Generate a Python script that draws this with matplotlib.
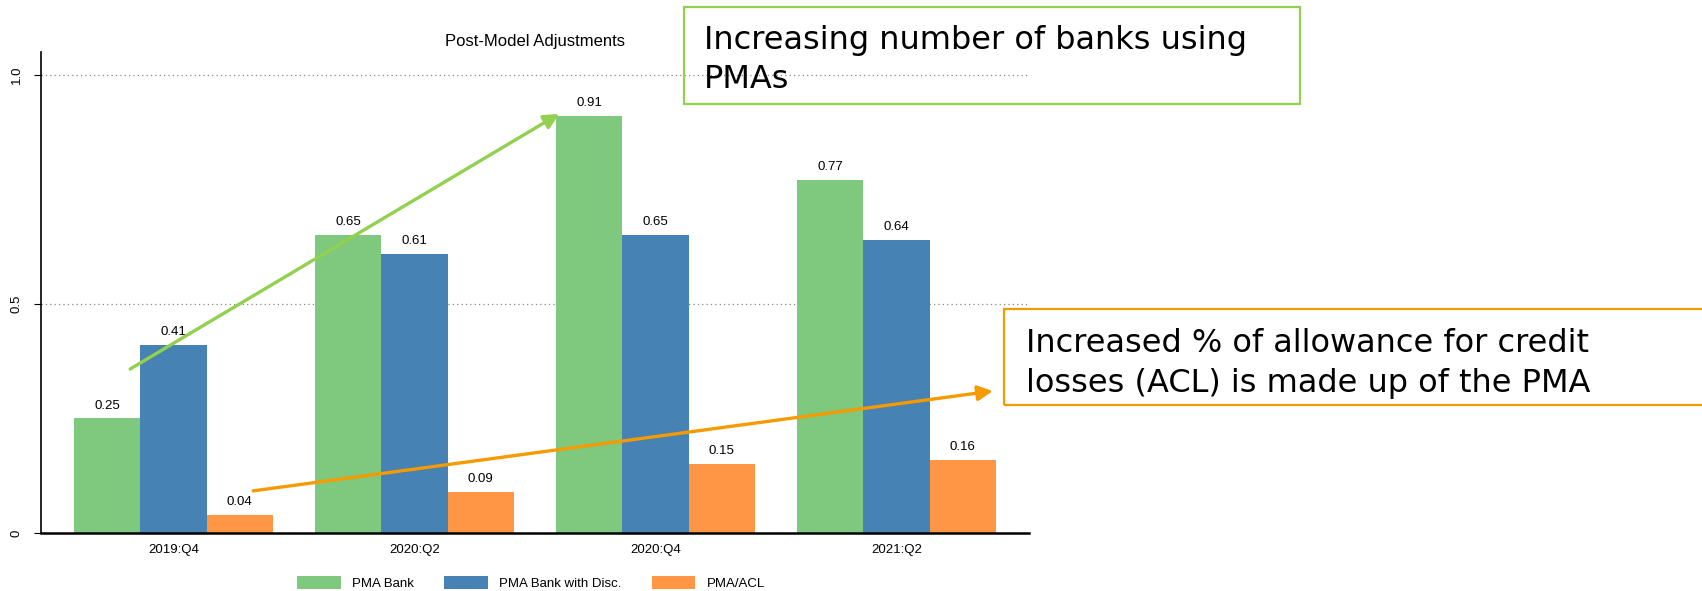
import matplotlib.pyplot as plt
import numpy as np

plt.rcParams['font.family'] = ['Liberation Sans', 'DejaVu Sans']

# Data
quarters = ['2019:Q4', '2020:Q2', '2020:Q4', '2021:Q2']
series_names = ['PMA Bank', 'PMA Bank with Disc.', 'PMA/ACL']
pma_bank = [0.25, 0.65, 0.91, 0.77]
pma_bank_disc = [0.41, 0.61, 0.65, 0.64]
pma_acl = [0.04, 0.09, 0.15, 0.16]
colors = ['#7fc97f', '#4682b4', '#fe9646']

fig = plt.figure(figsize=(17.02, 5.91), dpi=100)
ax = fig.add_axes([0.0241, 0.0981, 0.5805, 0.8139])

x = np.arange(len(quarters))
width = 0.275
for i, (vals, name, c) in enumerate(zip([pma_bank, pma_bank_disc, pma_acl], series_names, colors)):
    pos = x + (i - 1) * width
    bars = ax.bar(pos, vals, width, color=c, label=name, zorder=2)
    for b, v in zip(bars, vals):
        ax.annotate(f'{v:.2f}', (b.get_x() + b.get_width() / 2, v),
                    xytext=(0, 5), textcoords='offset points',
                    ha='center', va='bottom', fontsize=9.5)

ax.set_xlim(-0.55, 3.55)
ax.set_ylim(0, 1.05)
ax.set_xticks(x)
ax.set_xticklabels(quarters, fontsize=9.5)
ax.tick_params(axis='x', length=0, pad=8)
ax.set_yticks([0, 0.5, 1.0])
ax.set_yticklabels(['0', '0.5', '1.0'], rotation=90, va='center', fontsize=9.5)
ax.tick_params(axis='y', length=5, width=0.8, pad=8)
for yv in [0.5, 1.0]:
    ax.axhline(yv, color='#888888', lw=0.9, ls=(0, (1, 2.5)), zorder=1)

for s in ['top', 'right']:
    ax.spines[s].set_visible(False)
ax.spines['left'].set_linewidth(1.2)
ax.spines['bottom'].set_linewidth(1.8)
ax.spines['bottom'].set_zorder(3)

ax.set_title('Post-Model Adjustments', fontsize=12, pad=4)

ax.legend(loc='center', bbox_to_anchor=(0.312, 0.0135), bbox_transform=fig.transFigure,
          ncol=3, frameon=False, fontsize=9.5, handlelength=3.3, handleheight=1.2,
          columnspacing=2.3, handletextpad=0.85)

# Trend arrows
ax.annotate('', xy=(1.60, 0.915), xytext=(-0.18, 0.358),
            arrowprops=dict(arrowstyle='-|>,head_length=0.9,head_width=0.45',
                            color='#92d050', lw=2.4, shrinkA=0, shrinkB=0), zorder=4)
ax.annotate('', xy=(3.40, 0.31), xytext=(0.33, 0.092),
            arrowprops=dict(arrowstyle='-|>,head_length=0.9,head_width=0.45',
                            color='#f59a00', lw=2.4, shrinkA=0, shrinkB=0),
            annotation_clip=False, zorder=4)

# Callout boxes
fig.text(0.4138, 0.898, 'Increasing number of banks using\nPMAs',
         fontsize=23, family='DejaVu Sans', va='center', ha='left', linespacing=1.35)
fig.add_artist(plt.Rectangle((0.4019, 0.8240), 0.3617, 0.1650, transform=fig.transFigure,
                             fill=False, ec='#92d050', lw=1.6))
fig.text(0.6028, 0.385, 'Increased % of allowance for credit\nlosses (ACL) is made up of the PMA',
         fontsize=23, family='DejaVu Sans', va='center', ha='left', linespacing=1.35)
fig.add_artist(plt.Rectangle((0.5899, 0.3147), 0.45, 0.1624, transform=fig.transFigure,
                             fill=False, ec='#f59a00', lw=1.6))

plt.savefig('out.png', dpi=100)
